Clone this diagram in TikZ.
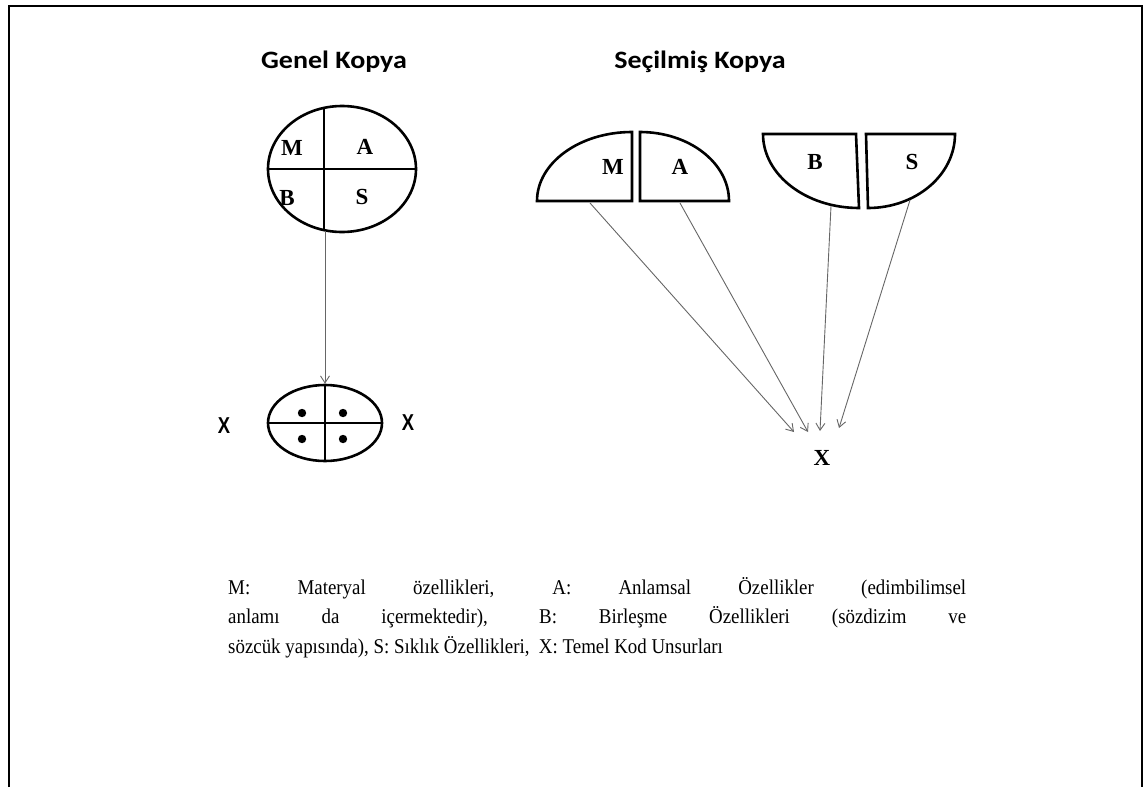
\documentclass[tikz,border=0pt]{standalone}
\usepackage{fontspec}
\setmainfont{Liberation Serif}
\newfontfamily\headfont[FakeStretch=1.12]{Carlito}
\newfontfamily\sidefont{Liberation Sans}
\newfontfamily\legendfont[FakeStretch=0.9]{Liberation Serif}
\usetikzlibrary{shapes.geometric,arrows.meta}
\hbadness=10000
\begin{document}
\begin{tikzpicture}[x=1pt,y=-1pt,
  outline/.style={draw=black, line width=2.6pt},
  piece/.style={draw=black, line width=2.6pt, line join=miter},
  divider/.style={draw=black, line width=1.3pt},
  pointer/.style={draw=black!60, line width=0.9pt, -{Straight Barb[length=7pt,width=9pt]}},
  heading/.style={font=\headfont\bfseries\fontsize{25}{25}\selectfont, inner sep=0pt},
  letter/.style={font=\fontsize{23}{23}\selectfont\bfseries, inner sep=0pt},
  sidex/.style={font=\sidefont\bfseries\fontsize{23}{23}\selectfont, inner sep=0pt, xscale=0.8},
  dot/.style={fill=black, draw=none}]
\useasboundingbox (0,0) rectangle (1147,787);

% open frame
\draw[line width=2.5pt] (9,787) -- (9,6) -- (1142,6) -- (1142,787);

% headings
\node[heading] (hgen) at (334,62) {Genel Kopya};
\node[heading] (hsel) at (700,62) {Seçilmiş Kopya};

% general copy: whole ellipse split into four
\node[ellipse, outline, minimum width=148pt, minimum height=126pt, inner sep=0pt] (gen) at (342,169) {};
\draw[divider] (324,107.8) -- (324,230.2);
\draw[divider] (gen.west) -- (gen.east);
\node[letter] (gm) at (292,148) {M};
\node[letter] (ga) at (365,147) {A};
\node[letter] (gb) at (287,198) {B};
\node[letter] (gs) at (362,197) {S};

% core elements
\node[ellipse, outline, minimum width=114pt, minimum height=76pt, inner sep=0pt] (core) at (325,423) {};
\draw[divider] (core.north) -- (core.south);
\draw[divider] (core.west) -- (core.east);
\fill[dot] (302,413) circle (4.2pt);
\fill[dot] (343,413) circle (4.2pt);
\fill[dot] (302,439) circle (4.2pt);
\fill[dot] (343,439) circle (4.2pt);
\node[sidex] (xl) at (224,426) {X};
\node[sidex] (xr) at (408,423) {X};

\coordinate (genfoot) at (325,231);
\draw[pointer] (genfoot) -- (core.north);

% selected copy: separated quarter pieces
\draw[piece] (632,201) -- (537,201) arc[start angle=180, end angle=270, x radius=95, y radius=69] -- cycle;
\draw[piece] (640,201) -- (640,132) arc[start angle=270, end angle=360, x radius=89, y radius=69] -- cycle;
\draw[piece] (856,134) -- (763,134) arc[start angle=180, end angle=90, x radius=96, y radius=74] -- cycle;
\draw[piece] (866,134) -- (868,208) arc[start angle=90, end angle=0, x radius=87, y radius=74] -- cycle;
\node[letter] (sm) at (613,167) {M};
\node[letter] (sa) at (680,167) {A};
\node[letter] (sb) at (815,162) {B};
\node[letter] (ss) at (912,162) {S};

\node[letter] (sx) at (822,458) {X};

\coordinate (fm) at (590,203);
\coordinate (fa) at (680,203);
\coordinate (fb) at (831,206);
\coordinate (fs) at (910,200);
\coordinate (em) at (794,432);
\coordinate (ea) at (808,432);
\coordinate (eb) at (820,431);
\coordinate (es) at (839,428);
\draw[pointer] (fm) -- (em);
\draw[pointer] (fa) -- (ea);
\draw[pointer] (fb) -- (eb);
\draw[pointer] (fs) -- (es);

% legend
\node[anchor=north west, text width=738pt, align=justify, inner sep=0pt,
      font=\legendfont\fontsize{21}{29.5}\selectfont] (legend) at (228,577)
  {M: Materyal özellikleri, A: Anlamsal Özellikler (edimbilimsel\linebreak
   anlamı da içermektedir), B: Birleşme Özellikleri (sözdizim ve\linebreak
   sözcük yapısında), S: Sıklık Özellikleri,\ \ X: Temel Kod Unsurları};
\end{tikzpicture}
\end{document}
